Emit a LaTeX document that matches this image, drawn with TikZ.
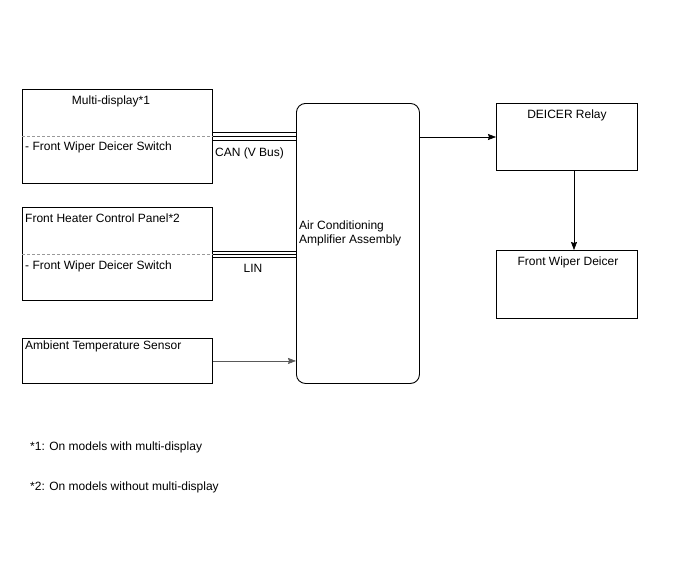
\documentclass[tikz,border=0pt]{standalone}
\usepackage{fontspec}
\setmainfont{Liberation Sans}
\usetikzlibrary{arrows.meta, positioning, calc}

\begin{document}
\begin{tikzpicture}[
    x=1pt, y=-1pt,
    every node/.style = {font=\fontsize{12}{14}\selectfont, inner sep=0pt},
    box/.style     = {draw, line width=0.9pt, anchor=north west},
    ampbox/.style  = {draw, line width=0.9pt, anchor=north west, rounded corners=9pt},
    txt/.style     = {anchor=west},
    divider/.style = {dashed, draw=gray!80, line width=0.6pt, dash pattern=on 3pt off 2pt},
    bus/.style     = {line width=0.9pt},
    arr/.style     = {-{Stealth[length=8pt,width=6pt,inset=1pt]}, line width=0.6pt},
]

%% Frame
\useasboundingbox (0,0) rectangle (688,560);

%% Left column
\node[box, minimum width=190pt, minimum height=94pt] (md) at (22,89) {};
\node[box, minimum width=190pt, minimum height=93pt] (hp) at (22,207) {};
\node[box, minimum width=190pt, minimum height=45pt] (ats) at (22,338) {};

\draw[divider] (md.west) -- (md.east);
\draw[divider] (hp.west) -- (hp.east);

\node (mdt) at (111,101) {Multi-display*1};
\node[txt] (mds) at (25,147) {- Front Wiper Deicer Switch};
\node[txt] (hpt) at (25,218) {Front Heater Control Panel*2};
\node[txt] (hps) at (25,266) {- Front Wiper Deicer Switch};
\node[txt] (atst) at (25,346) {Ambient Temperature Sensor};

%% Amplifier
\node[ampbox, minimum width=123pt, minimum height=280pt] (ac) at (296,103) {};
\node[anchor=north west, align=left] (act) at (299,221)
    {Air Conditioning\\Amplifier Assembly};

%% Right column
\node[box, minimum width=141pt, minimum height=67pt] (rly) at (496,103) {};
\node[box, minimum width=141pt, minimum height=68pt] (dcr) at (496,250) {};
\node (rlyt) at (567,115) {DEICER Relay};
\node (dcrt) at (568,262) {Front Wiper Deicer};

%% CAN bus
\draw[bus] ([yshift=4pt]md.east)  -- ([yshift=4pt]md.east -| ac.west);
\draw[bus] (md.east)              -- (md.east -| ac.west);
\draw[bus] ([yshift=-4pt]md.east) -- ([yshift=-4pt]md.east -| ac.west);
\node[txt] (can) at (215,153) {CAN (V Bus)};

%% LIN
\draw[bus] ([yshift=3pt]hp.east)  -- ([yshift=3pt]hp.east -| ac.west);
\draw[bus] (hp.east)              -- (hp.east -| ac.west);
\draw[bus] ([yshift=-3pt]hp.east) -- ([yshift=-3pt]hp.east -| ac.west);
\node (lin) at (253,268) {LIN};

%% Signal arrows
\draw[arr, draw=gray!70!black] (ats.east) -- (ats.east -| ac.west);
\draw[arr] (ac.east |- 0,137) -- (rly.west |- 0,137);
\draw[arr] (rly.south -| 574,0) -- (dcr.north -| 574,0);

%% Footnotes
\node[txt] (fn1) at (30,447) {*1: On models with multi-display};
\node[txt] (fn2) at (30,487) {*2: On models without multi-display};

\end{tikzpicture}
\end{document}
